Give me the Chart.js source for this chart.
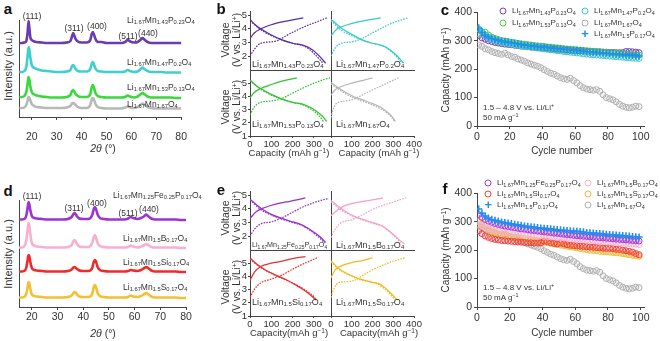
<!DOCTYPE html>
<html><head><meta charset="utf-8">
<script src="https://cdn.jsdelivr.net/npm/chart.js@4.4.1/dist/chart.umd.min.js"></script>
<style>
html,body{margin:0;padding:0;background:#fff;}
#wrap{position:relative;width:660px;height:341px;overflow:hidden;font-family:"Liberation Sans",Arial,Helvetica,sans-serif;color:#333;}
#wrap canvas{position:absolute;}
.t{position:absolute;white-space:nowrap;line-height:1;}
.t sub{font-size:68%;vertical-align:-0.28em;line-height:0;}
.t sup{font-size:68%;vertical-align:0.5em;line-height:0;}
.pl{font-weight:bold;color:#111;}
.mk{position:absolute;width:5px;height:5px;border-radius:50%;transform:translate(-50%,-50%);}
</style></head>
<body><div id="wrap"></div>
<script>
// ---------- XRD (panels a, d) ----------
const xrdAngles = [15,16,17,17.8,18.3,18.7,19.0,19.4,20,21,22,24,26,28,30,32,34,35.5,36.2,36.6,37.0,37.6,38.5,40,42,43.5,44.1,44.5,44.9,45.6,46.5,48,50,52,54,56,57.5,58.5,59.5,61,62.5,63.8,64.5,65.2,66.5,68,70,72,74,76,78,80];
const xrdA_P023 = [74,74,74.5,76,84,96,90,80,77,75.5,75,74.5,74,74,74,74,74.5,76,81,84,82,78,75.5,74.5,74.5,77,83,85,83,78,75,75,74,74,74,74,75,77,75.5,74.5,75,77.5,79,77.5,75,74,74,74,74,74,74,74];
const xrdA_P02 = [45,45,46,50,60,70,68,60,52,49,48,46.5,46,45.5,45,45,45.5,47,51,52,51,48,46,45.5,45.5,48,53,55,53,48.5,46,45.5,45,45,45,45,45.5,47,46,45,45.5,48,49.5,48,46,45,45,45,44.5,44.5,44.5,44.5];
const xrdA_P013 = [20,20,21,25,33,40,38,31,25,22.5,21.5,20.5,20,19.5,19.5,19.5,20,22,26,27,26,23,21,20,20,23,30,32,30,24,21,20,19.5,19.5,19.5,19.5,20,21.5,20.5,19.5,20.5,23,24,23,20.5,19.5,19.5,19.5,19.5,19.5,19,19];
const xrdA_P0 = [9,9,9.5,12,16,20,19.5,17,13,11,10,9.5,9,9,9,9,9.5,11,13.5,14,13.5,12,10,9,9,12,17.5,19,18,13,10,9,8.5,8.5,8.5,8.5,9.5,10.5,9.5,9,10,12.5,13.5,12.5,10,9,8.5,8.5,8.5,8.5,8.5,8.5];
const xrdD_Fe = [87.5,87.5,88,91,98,105,103,97,91,89,88.5,88,87.5,87.5,87.5,87.5,88,90,93,94,93,90.5,88.5,88,88,92,98,100,98.5,92.5,89,88,87.5,87.5,87.5,87.5,88.5,90,89,88,89,91,92.5,91,88.5,87.5,87.5,87.5,87.5,87.5,87,87];
const xrdD_B = [59.5,59.5,60.5,66,76,84,82,73,64,61.5,60.5,60,59.5,59.5,59.5,59.5,60,62,66,67,66,63,60.5,60,60,64,70,72,70,64,61,60,59.5,59.5,59.5,59.5,60,61.5,60.5,59.5,60.5,62,63,62,60,59.5,59.5,59.5,59.5,59.5,59,59];
const xrdD_Si = [35.5,35.5,36,39,46,52,51,45,39,37,36.5,36,35.5,35.5,35.5,35.5,36,37.5,39.5,40,39.5,38,36.5,36,36,39,45,47,46,40,37,36,35.5,35.5,35.5,35.5,36,37,36.5,36,37,39,40,39,36.5,35.5,35.5,35.5,35.5,35.5,35,35];
const xrdD_S = [9.5,9.5,10,13,19,25,24,18,12.5,11,10.5,10,9.5,9.5,9.5,9.5,10,11.5,14,15,14.5,12.5,10.5,10,10,13,20,22,20.5,14,11,10,9.5,9.5,9.5,9.5,10,11.5,10.5,10,11,13,14,13,10.5,9.5,9.5,9.5,9.5,9.5,9,9];
const xrdTicks = [20,30,40,50,60,70,80];

// ---------- Voltage profiles (panels b, e): [capacity, voltage] ----------
const bP023Chg1 = [[0,3.3],[20,3.7],[50,4.0],[100,4.3],[150,4.5],[200,4.65],[250,4.8]];
const bP023Dis1 = [[0,4.7],[20,4.35],[50,4.0],[100,3.55],[150,3.2],[200,2.95],[250,2.8],[280,2.6],[310,2.25],[335,1.85],[355,1.5]];
const bP023Chg2 = [[0,2.0],[20,2.5],[50,2.95],[100,3.05],[130,3.15],[170,3.5],[220,3.9],[270,4.25],[320,4.55],[360,4.8]];
const bP023Dis2 = [[0,4.6],[50,3.95],[100,3.5],[150,3.2],[200,2.95],[245,2.8],[275,2.55],[300,2.2],[325,1.8],[342,1.5]];
const bP02Chg1 = [[0,3.5],[30,4.0],[80,4.3],[130,4.5],[180,4.65],[240,4.8]];
const bP02Dis1 = [[0,4.7],[30,4.3],[60,3.95],[100,3.6],[150,3.2],[200,2.95],[230,2.85],[260,2.7],[290,2.4],[320,2.0],[350,1.5]];
const bP02Chg2 = [[0,2.0],[20,2.6],[50,2.95],[100,3.05],[150,3.3],[200,3.7],[250,4.1],[300,4.45],[340,4.65],[370,4.8]];
const bP02Dis2 = [[0,4.6],[50,3.9],[100,3.5],[150,3.2],[200,2.95],[250,2.75],[290,2.35],[320,1.9],[340,1.5]];
const bP013Chg1 = [[0,3.9],[20,4.3],[50,4.6],[100,4.9],[150,5.15],[220,5.4]];
const bP013Dis1 = [[0,5.25],[30,4.8],[60,4.5],[100,4.15],[150,3.8],[200,3.55],[250,3.4],[280,3.2],[310,2.9],[340,2.5],[360,2.1]];
const bP013Chg2 = [[0,2.6],[20,3.2],[50,3.55],[100,3.65],[150,3.85],[200,4.25],[250,4.65],[300,5.0],[340,5.25],[375,5.4]];
const bP013Dis2 = [[0,5.2],[50,4.55],[100,4.1],[150,3.8],[200,3.55],[250,3.35],[290,3.0],[320,2.6],[345,2.1]];
const bP0Chg1 = [[0,4.1],[20,4.5],[50,4.75],[100,5.0],[150,5.2],[200,5.4]];
const bP0Dis1 = [[0,5.05],[50,4.5],[100,4.05],[150,3.75],[200,3.45],[230,3.25],[260,2.95],[290,2.55],[310,2.1]];
const bP0Chg2 = [[0,2.4],[10,3.0],[25,3.45],[50,3.6],[100,3.75],[150,4.1],[200,4.5],[250,4.85],[290,5.15],[325,5.4]];
const bP0Dis2 = [[0,4.95],[50,4.4],[100,3.95],[150,3.65],[200,3.35],[240,3.05],[270,2.75],[290,2.45],[305,2.15]];
const eFeChg1 = [[0,3.3],[30,3.8],[70,4.1],[120,4.35],[170,4.5],[220,4.65],[260,4.8]];
const eFeDis1 = [[0,4.7],[30,4.3],[60,3.95],[100,3.6],[150,3.3],[200,3.05],[240,2.85],[270,2.6],[300,2.3],[330,1.95],[355,1.55]];
const eFeChg2 = [[0,2.0],[20,2.5],[50,2.9],[100,3.05],[150,3.35],[200,3.75],[250,4.15],[300,4.45],[340,4.65],[370,4.75]];
const eFeDis2 = [[0,4.65],[50,3.95],[100,3.55],[150,3.25],[200,3.0],[250,2.75],[280,2.45],[310,2.1],[335,1.75],[350,1.5]];
const eBChg1 = [[0,3.5],[30,3.9],[70,4.25],[120,4.45],[180,4.6],[250,4.8]];
const eBDis1 = [[0,4.6],[30,4.25],[70,3.8],[120,3.4],[170,3.15],[220,2.9],[250,2.75],[280,2.4],[310,2.0],[340,1.6],[355,1.45]];
const eBChg2 = [[0,1.9],[20,2.5],[50,3.0],[100,3.2],[150,3.55],[200,3.95],[250,4.25],[300,4.5],[360,4.8]];
const eBDis2 = [[0,4.5],[50,3.9],[100,3.5],[150,3.2],[200,2.95],[250,2.7],[280,2.35],[310,1.95],[335,1.5]];
const eSiChg1 = [[0,3.7],[20,4.3],[50,4.75],[100,5.0],[150,5.15],[200,5.35],[260,5.5]];
const eSiDis1 = [[0,5.4],[30,4.95],[70,4.5],[120,4.1],[170,3.75],[220,3.3],[260,2.9],[290,2.5],[310,2.2]];
const eSiChg2 = [[0,2.4],[20,3.0],[50,3.5],[100,3.8],[150,4.1],[200,4.55],[250,4.95],[300,5.3],[320,5.45]];
const eSiDis2 = [[0,5.3],[40,4.8],[80,4.4],[130,4.0],[180,3.65],[230,3.25],[270,2.85],[300,2.45],[312,2.2]];
const eSChg1 = [[0,3.9],[20,4.5],[50,4.8],[100,5.05],[150,5.2],[200,5.4]];
const eSDis1 = [[0,5.2],[30,4.7],[60,4.35],[100,4.05],[150,3.75],[200,3.55],[230,3.45],[260,3.15],[290,2.7],[320,2.2]];
const eSChg2 = [[0,2.4],[15,3.1],[40,3.55],[80,3.6],[120,3.75],[160,4.15],[200,4.5],[250,4.85],[300,5.15],[355,5.4]];
const eSDis2 = [[0,5.1],[40,4.5],[80,4.15],[130,3.8],[180,3.6],[220,3.45],[255,3.1],[285,2.65],[310,2.2]];

// ---------- Cycling (panels c, f) ----------
const cycles = [1,3,5,7,9,11,13,15,17,19,21,23,25,27,29,31,33,35,37,39,41,43,45,47,49,51,53,55,57,59,61,63,65,67,69,71,73,75,77,79,81,83,85,87,89,91,93,95,97,99];
const capP0 = [285,280,272,268,262,258,255,252,256,250,245,242,236,232,228,222,218,214,210,205,198,192,186,182,176,170,166,164,168,160,152,142,135,130,128,126,128,122,110,100,96,92,85,76,70,66,64,66,70,68];
const capP023 = [318,310,305,300,297,294,292,290,288,287,286,284,283,281,280,279,278,277,276,275,274,273,272,271,270,269,268,267,266,265,265,264,263,263,262,262,261,261,260,260,259,259,258,258,258,262,262,261,260,258];
const capP02 = [342,330,318,310,305,300,297,294,292,290,288,286,284,282,280,279,277,276,274,273,271,270,268,267,265,264,262,261,260,258,257,256,254,253,252,251,250,249,248,247,246,245,244,243,242,241,240,239,238,238];
const capP013 = [325,332,330,320,312,308,304,301,299,297,295,293,291,289,288,286,285,283,282,281,280,278,277,276,275,274,272,271,270,269,268,267,266,265,264,263,262,261,260,259,258,257,256,255,254,253,252,251,250,250];
const capP017 = [345,330,320,313,308,305,302,299,297,295,293,291,289,287,285,284,282,281,279,278,277,276,275,273,272,271,270,269,268,267,266,265,264,262,261,260,259,258,257,256,255,254,253,252,251,250,249,248,247,246];
const capFe = [325,315,308,302,298,294,291,288,285,283,281,279,277,275,274,272,270,269,267,266,264,263,262,260,259,258,256,255,254,252,251,250,249,248,247,246,245,244,243,242,241,240,239,238,237,236,235,234,233,232];
const capB = [290,285,280,277,274,271,268,266,264,263,260,258,257,256,255,254,253,252,251,251,249,248,247,246,245,244,243,242,241,240,239,238,237,236,235,234,233,232,231,230,229,228,227,226,225,224,223,222,221,220];
const capSi = [268,258,250,245,241,238,236,234,233,232,231,230,229,228,227,226,226,225,225,226,232,230,226,224,222,225,222,219,217,216,215,214,213,212,211,210,209,208,207,206,206,205,203,202,200,198,196,193,188,184];
const capS = [300,290,280,272,266,262,258,255,252,250,248,246,244,242,240,238,236,234,232,230,228,226,224,222,220,218,216,214,212,210,208,206,204,202,200,199,198,196,195,194,193,192,191,190,188,186,184,182,180,178];
const capTicks = [0,100,200,300,400];
const cycleTicks = [0,20,40,60,80,100];

// ---------- helpers ----------
const wrap = document.getElementById('wrap');
Chart.defaults.font.family = '"Liberation Sans", Arial, sans-serif';
Chart.defaults.color = '#333';
const pts = a => a.map(([x,y]) => ({x, y}));
const ser = (xs, ys) => xs.map((x,i) => ({x, y: ys[i]}));

function axis(s, size, dir) {
  return {
    type: 'linear', min: s.min, max: s.max,
    afterBuildTicks: sc => { sc.ticks = s.ticks.map(v => ({value: v})); },
    afterFit: sc => { if (dir === 'x') sc.height = size; else sc.width = size; },
    ticks: {display: !!s.labels, font: {size: s.fs || 10}, color: '#333', padding: s.pad ?? 2, maxRotation: 0, autoSkip: false},
    grid: {display: true, drawOnChartArea: false, drawTicks: (s.tl || 0) > 0, tickLength: s.tl || 0, color: '#444', lineWidth: 1},
    border: {display: true, color: '#444', width: 1}
  };
}
function mkChart(box, datasets, xs, ys) {
  const {x0, y0, x1, y1, L, B, T, R} = box;
  const cv = document.createElement('canvas');
  const W = Math.round(x1 - x0 + L + R), H = Math.round(y1 - y0 + T + B);
  cv.width = W; cv.height = H;
  cv.style.cssText = `left:${x0 - L}px;top:${y0 - T}px;width:${W}px;height:${H}px`;
  wrap.appendChild(cv);
  return new Chart(cv, {
    type: 'scatter', data: {datasets},
    options: {
      responsive: false, animation: false, events: [], devicePixelRatio: 1,
      layout: {padding: {left: 0, top: T, right: R, bottom: 0}},
      plugins: {legend: {display: false}, tooltip: {enabled: false}},
      scales: {x: axis(xs, B, 'x'), y: axis(ys, L, 'y')}
    }
  });
}
function txt(html, x, y, size, mode, extra) {
  const d = document.createElement('div');
  d.className = 't'; d.innerHTML = html;
  const tr = mode === 'c' ? 'translate(-50%,-50%)' : mode === 'r' ? 'translate(-50%,-50%) rotate(-90deg)' : 'translate(0,-50%)';
  d.style.left = x + 'px'; d.style.top = y + 'px'; d.style.fontSize = size + 'px'; d.style.transform = tr;
  if (extra) d.style.cssText += extra;
  wrap.appendChild(d);
}
function mark(x, y, color, cross) {
  const d = document.createElement('div');
  if (cross) { d.className = 't'; d.textContent = '+'; d.style.cssText += `left:${x}px;top:${y}px;font-size:13px;font-weight:bold;color:${color};transform:translate(-50%,-54%)`; }
  else { d.className = 'mk'; d.style.cssText += `left:${x}px;top:${y}px;border:1.2px solid ${color};`; }
  wrap.appendChild(d);
}
const chem = (...p) => p.map((s, i) => i % 2 ? `<sub>${s}</sub>` : s).join('');

// ---------- panel a / d ----------
function xrdSet(arr, color) {
  return {data: ser(xrdAngles, arr), showLine: true, borderColor: color, borderWidth: 2.6, pointRadius: 0, cubicInterpolationMode: 'monotone', clip: false};
}
mkChart({x0: 19, x1: 186, y0: 20, y1: 117, L: 4, B: 30, T: 6, R: 12},
  [xrdSet(xrdA_P023, '#6a3cb0'), xrdSet(xrdA_P02, '#40cfcf'), xrdSet(xrdA_P013, '#3ad83a'), xrdSet(xrdA_P0, '#b8b8b8')],
  {min: 15, max: 80, ticks: xrdTicks, labels: true, fs: 10.5, tl: 3, pad: 11},
  {min: 0, max: 97, ticks: [], labels: false, tl: 0});
mkChart({x0: 19, x1: 186, y0: 200, y1: 307, L: 4, B: 22, T: 6, R: 12},
  [xrdSet(xrdD_Fe, '#9b35d0'), xrdSet(xrdD_B, '#f7b0cf'), xrdSet(xrdD_Si, '#ee2b2b'), xrdSet(xrdD_S, '#f2c030')],
  {min: 15, max: 80, ticks: xrdTicks, labels: true, fs: 10.5, tl: 3, pad: 1},
  {min: 0, max: 107, ticks: [], labels: false, tl: 0});

// ---------- panel b / e ----------
function vPanel(x0, x1, y0, y1, xMax, yMax, yTicks, xTicks, showY, showX, color, sets) {
  const ds = sets.map(([arr, dot]) => ({data: pts(arr), showLine: true, borderColor: color, borderWidth: 1.25, pointRadius: 0,
    cubicInterpolationMode: 'monotone', borderDash: dot ? [1.6, 1.2] : []}));
  mkChart({x0, x1, y0, y1, L: showY ? 14 : 4, B: showX ? 16 : 7, T: 8, R: 10}, ds,
    {min: 0, max: xMax, ticks: xTicks, labels: showX, fs: 9.5, tl: showX ? 2 : 0, pad: 1},
    {min: 1, max: yMax, ticks: yTicks, labels: showY, fs: 9.5, tl: showY ? 2 : 0, pad: 1});
}
const xL = [0,100,200,300], xR = [0,100,200,300,400];
const yTop = [2,3,4,5], yBot = [1,2,3,4,5];
function vBlock(dy, cols, sets) {
  vPanel(250, 331, 11 + dy, 70 + dy, 380, 5.3, yTop, xL, true, false, cols[0], sets[0]);
  vPanel(331, 414, 11 + dy, 70 + dy, 400, 5.3, yTop, xR, false, false, cols[1], sets[1]);
  vPanel(250, 331, 70 + dy, 136 + dy, 380, 6, yBot, xL, true, true, cols[2], sets[2]);
  vPanel(331, 414, 70 + dy, 136 + dy, 400, 6, yBot, xR, false, true, cols[3], sets[3]);
}
vBlock(0, ['#5a2d9f', '#38c9c9', '#34c234', '#b5b5b5'], [
  [[bP023Chg1], [bP023Dis1], [bP023Chg2, 1], [bP023Dis2, 1]],
  [[bP02Chg1], [bP02Dis1], [bP02Chg2, 1], [bP02Dis2, 1]],
  [[bP013Chg1], [bP013Dis1], [bP013Chg2, 1], [bP013Dis2, 1]],
  [[bP0Chg1], [bP0Dis1], [bP0Chg2, 1], [bP0Dis2, 1]]]);
vBlock(180, ['#9431cc', '#f2a0c8', '#e83030', '#f0bb22'], [
  [[eFeChg1], [eFeDis1], [eFeChg2, 1], [eFeDis2, 1]],
  [[eBChg1], [eBDis1], [eBChg2, 1], [eBDis2, 1]],
  [[eSiChg1], [eSiDis1], [eSiChg2, 1], [eSiDis2, 1]],
  [[eSChg1], [eSDis1], [eSChg2, 1], [eSDis2, 1]]]);

// ---------- panel c / f ----------
function circ(arr, color, fill) {
  return {data: ser(cycles, arr), pointStyle: 'circle', pointRadius: 3, pointBorderWidth: 1, pointBorderColor: color, pointBackgroundColor: fill};
}
function plus(arr, color) {
  return {data: ser(cycles, arr), pointStyle: 'cross', pointRadius: 3.6, pointBorderWidth: 1.6, pointBorderColor: color, pointBackgroundColor: color};
}
mkChart({x0: 477, x1: 644, y0: 12, y1: 126, L: 34, B: 24, T: 8, R: 12},
  [plus(capP017, '#1e8ff0'), circ(capP02, '#3cc8c8', 'rgba(60,200,200,0.12)'), circ(capP013, '#4bd04b', 'rgba(75,208,75,0.12)'),
   circ(capP023, '#7a40c0', 'rgba(122,64,192,0.1)'), circ(capP0, '#b0b0b0', 'rgba(176,176,176,0.12)')],
  {min: 0, max: 102, ticks: cycleTicks, labels: true, fs: 10.5, tl: 3, pad: 2},
  {min: 0, max: 400, ticks: capTicks, labels: true, fs: 10.5, tl: 3, pad: 2});
mkChart({x0: 477, x1: 644, y0: 193, y1: 307, L: 34, B: 24, T: 8, R: 12},
  [plus(capP017, '#1e8ff0'), circ(capFe, '#a83ad8', 'rgba(168,58,216,0.12)'), circ(capB, '#f5b0d0', 'rgba(245,176,208,0.15)'),
   circ(capSi, '#ee4040', 'rgba(238,64,64,0.15)'), circ(capS, '#f3b830', 'rgba(243,184,48,0.15)'), circ(capP0, '#b0b0b0', 'rgba(176,176,176,0.12)')],
  {min: 0, max: 102, ticks: cycleTicks, labels: true, fs: 10.5, tl: 3, pad: 2},
  {min: 0, max: 400, ticks: capTicks, labels: true, fs: 10.5, tl: 3, pad: 2});

// ---------- text ----------
const F_P023 = chem('Li','1.67','Mn','1.43','P','0.23','O','4');
const F_P02 = chem('Li','1.67','Mn','1.47','P','0.2','O','4');
const F_P013 = chem('Li','1.67','Mn','1.53','P','0.13','O','4');
const F_P0 = chem('Li','1.67','Mn','1.67','O','4');
const F_P017 = chem('Li','1.67','Mn','1.5','P','0.17','O','4');
const F_Fe = chem('Li','1.67','Mn','1.25','Fe','0.25','P','0.17','O','4');
const F_B = chem('Li','1.67','Mn','1.5','B','0.17','O','4');
const F_Si = chem('Li','1.67','Mn','1.5','Si','0.17','O','4');
const F_S = chem('Li','1.67','Mn','1.5','S','0.17','O','4');

[['a', 8, 8], ['b', 221, 8], ['c', 445, 9], ['d', 8, 190], ['e', 221, 189], ['f', 445, 188]]
  .forEach(([s, x, y]) => txt(`<span class="pl">${s}</span>`, x, y, 15, 'c'));

// a
txt('Intensity (a.u.)', 8, 66, 11, 'r');
txt('<i>2θ</i> (°)', 103, 148, 10.5, 'c');
[['(111)', 32, 15.5], ['(311)', 74, 28], ['(400)', 97, 26], ['(511)', 128, 36], ['(440)', 148, 33]].forEach(([s, x, y]) => txt(s, x, y, 8.5, 'c'));
txt(F_P023, 127, 20, 8.5); txt(F_P02, 127, 62, 8.5); txt(F_P013, 127, 87, 8.5); txt(F_P0, 127, 103.5, 8.5);
// d
txt('Intensity (a.u.)', 8, 254, 11, 'r');
txt('<i>2θ</i> (°)', 103, 333, 10.5, 'c');
[['(111)', 32, 196], ['(311)', 74, 208], ['(400)', 97, 203], ['(511)', 128, 213], ['(440)', 149, 209]].forEach(([s, x, y]) => txt(s, x, y, 8.5, 'c'));
txt(F_Fe, 113, 195, 8.5); txt(F_B, 123, 238, 8.5); txt(F_Si, 123, 262, 8.5); txt(F_S, 123, 287, 8.5);
// b / e
[40, 107, 218, 287].forEach(y => { txt('Voltage', 224.5, y, 10.5, 'r'); txt('(V vs. Li/Li<sup>+</sup>)', 236.5, y, 10, 'r'); });
txt('Capacity (mAh g<sup>−1</sup>)', 289, 152.5, 9.5, 'c'); txt('Capacity (mAh g<sup>−1</sup>)', 379, 152.5, 9.5, 'c');
txt('Capacity(mAh g<sup>−1</sup>)', 289, 332.5, 9.5, 'c'); txt('Capacity(mAh g<sup>−1</sup>)', 379, 332.5, 9.5, 'c');
txt(F_P023, 252, 63.5, 9); txt(F_P02, 336, 63.5, 9); txt(F_P013, 252, 124, 9); txt(F_P0, 336, 124, 9);
txt(F_Fe, 252, 244.5, 7.2); txt(F_B, 336, 244.5, 9); txt(F_Si, 252, 302, 9); txt(F_S, 336, 302, 9);
// c
txt('Capacity (mAh g<sup>−1</sup>)', 446, 70, 10, 'r');
txt('Cycle number', 562, 150.5, 10, 'c');
txt('1.5 – 4.8 V vs. Li/Li<sup>+</sup>', 483, 107.5, 8);
txt('50 mA g<sup>−1</sup>', 483, 117.5, 8);
mark(503, 11, '#7a40c0'); txt(F_P023, 512, 11, 8);
mark(503, 22.7, '#4bd04b'); txt(F_P013, 512, 22.7, 8);
mark(585, 11, '#3cc8c8'); txt(F_P02, 594, 11, 8);
mark(585, 22.7, '#b0b0b0'); txt(F_P0, 594, 22.7, 8);
mark(585, 34.3, '#1e8ff0', true); txt(F_P017, 594, 34.3, 8);
// f
txt('Capacity (mAh g<sup>−1</sup>)', 446, 250, 10, 'r');
txt('Cycle number', 562, 332.5, 10, 'c');
txt('1.5 – 4.8 V vs. Li/Li<sup>+</sup>', 483, 288.3, 8);
txt('50 mA g<sup>−1</sup>', 483, 297.5, 8);
mark(488.3, 182.7, '#a83ad8'); txt(F_Fe, 497, 182.7, 8);
mark(488.3, 194, '#ee4040'); txt(F_Si, 497, 194, 8);
mark(488.3, 205.3, '#1e8ff0', true); txt(F_P017, 497, 205.3, 8);
mark(588.3, 182.7, '#f5b0d0'); txt(F_B, 597, 182.7, 8);
mark(588.3, 194, '#f3b830'); txt(F_S, 597, 194, 8);
mark(588.3, 205.3, '#b0b0b0'); txt(F_P0, 597, 205.3, 8);
</script></body></html>
